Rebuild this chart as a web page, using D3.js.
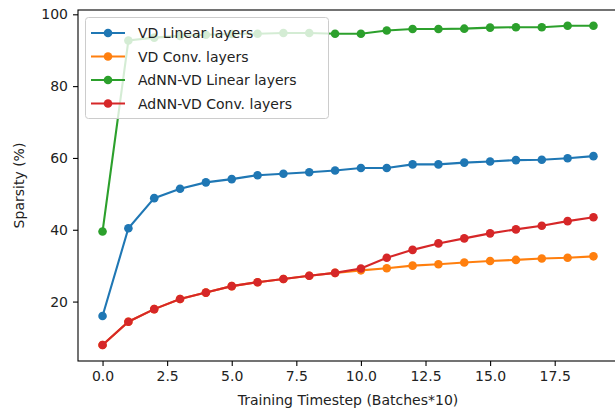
<!DOCTYPE html>
<html>
<head>
<meta charset="utf-8">
<script src="https://cdn.jsdelivr.net/npm/d3@7"></script>
<style>
  html, body { margin: 0; padding: 0; background: #fff; }
  svg { display: block; }
  text { font-family: "DejaVu Sans", sans-serif; }
</style>
</head>
<body>
<script>
// ---- data ----
const timesteps = d3.range(0, 20);
const vdLinear = [16.0, 40.4, 48.8, 51.4, 53.2, 54.1, 55.2, 55.6, 56.0, 56.5, 57.2, 57.2, 58.2, 58.2, 58.7, 59.0, 59.4, 59.5, 59.9, 60.5];
const vdConv = [7.9, 14.4, 17.9, 20.7, 22.5, 24.3, 25.4, 26.3, 27.2, 28.0, 28.7, 29.3, 30.0, 30.4, 30.9, 31.3, 31.6, 32.0, 32.2, 32.6];
const adnnLinear = [39.5, 92.7, 93.5, 94.0, 94.3, 94.5, 94.6, 94.8, 94.8, 94.6, 94.6, 95.5, 95.9, 95.9, 96.0, 96.3, 96.4, 96.4, 96.8, 96.8];
const adnnConv = [7.9, 14.4, 17.9, 20.7, 22.5, 24.3, 25.4, 26.3, 27.2, 28.0, 29.2, 32.2, 34.4, 36.2, 37.6, 39.0, 40.1, 41.1, 42.4, 43.5];
const seriesNames = ["VD Linear layers", "VD Conv. layers", "AdNN-VD Linear layers", "AdNN-VD Conv. layers"];
const seriesColors = ["#1f77b4", "#ff7f0e", "#2ca02c", "#d62728"];
const xTickValues = [0, 2.5, 5, 7.5, 10, 12.5, 15, 17.5];
const yTickValues = [20, 40, 60, 80, 100];
const xLabel = "Training Timestep (Batches*10)";
const yLabel = "Sparsity (%)";

const allSeries = [vdLinear, vdConv, adnnLinear, adnnConv];

// ---- layout ----
const W = 615, H = 413;
const mLeft = 78, mRight = 618, mTop = 10, mBottom = 361;

const svg = d3.select("body").append("svg").attr("width", W).attr("height", H);

const x = d3.scaleLinear().domain([-0.95, 19.95]).range([mLeft, mRight]);
const y = d3.scaleLinear().domain([3.45, 101.2]).range([mBottom, mTop]);

// axes
const xAxis = d3.axisBottom(x).tickValues(xTickValues).tickFormat(d3.format(".1f")).tickSize(5).tickPadding(5);
const yAxis = d3.axisLeft(y).tickValues(yTickValues).tickFormat(d3.format("d")).tickSize(5).tickPadding(5);

const gx = svg.append("g").attr("transform", `translate(0,${mBottom})`).call(xAxis);
const gy = svg.append("g").attr("transform", `translate(${mLeft},0)`).call(yAxis);
[gx, gy].forEach(g => {
  g.select(".domain").remove();
  g.selectAll(".tick line").attr("stroke", "#000").attr("stroke-width", 1.1);
  g.selectAll(".tick text").attr("fill", "#222").style("font-size", "14px").style("font-family", "'DejaVu Sans', sans-serif");
});

// clip for data
svg.append("clipPath").attr("id", "clip").append("rect")
  .attr("x", mLeft).attr("y", mTop).attr("width", mRight - mLeft).attr("height", mBottom - mTop);

const line = d3.line().x((d, i) => x(timesteps[i])).y(d => y(d));
const plot = svg.append("g").attr("clip-path", "url(#clip)");

allSeries.forEach((s, k) => {
  plot.append("path").datum(s).attr("d", line).attr("fill", "none")
    .attr("stroke", seriesColors[k]).attr("stroke-width", 2.1);
  plot.selectAll(null).data(s).enter().append("circle")
    .attr("cx", (d, i) => x(timesteps[i])).attr("cy", d => y(d)).attr("r", 4.3)
    .attr("fill", seriesColors[k]);
});

// spines
svg.append("rect").attr("x", mLeft).attr("y", mTop).attr("width", mRight - mLeft).attr("height", mBottom - mTop)
  .attr("fill", "none").attr("stroke", "#000").attr("stroke-width", 1.1);

// axis labels
svg.append("text").attr("x", (mLeft + mRight) / 2).attr("y", 405).attr("text-anchor", "middle")
  .attr("fill", "#222").style("font-size", "14px").text(xLabel);
svg.append("text").attr("transform", `translate(24,${(mTop + mBottom) / 2}) rotate(-90)`)
  .attr("text-anchor", "middle").attr("fill", "#222").style("font-size", "14px").text(yLabel);

// legend
const lg = svg.append("g");
lg.append("rect").attr("x", 85.5).attr("y", 17.5).attr("width", 243).attr("height", 101).attr("rx", 3)
  .attr("fill", "#fff").attr("fill-opacity", 0.8).attr("stroke", "#ccc").attr("stroke-width", 1);
seriesNames.forEach((name, k) => {
  const cy = 33 + k * 23.5;
  lg.append("line").attr("x1", 91).attr("x2", 125).attr("y1", cy).attr("y2", cy)
    .attr("stroke", seriesColors[k]).attr("stroke-width", 2.1);
  lg.append("circle").attr("cx", 108).attr("cy", cy).attr("r", 4.3).attr("fill", seriesColors[k]);
  lg.append("text").attr("x", 138).attr("y", cy + 5).attr("fill", "#222").style("font-size", "14px").text(name);
});
</script>
</body>
</html>
